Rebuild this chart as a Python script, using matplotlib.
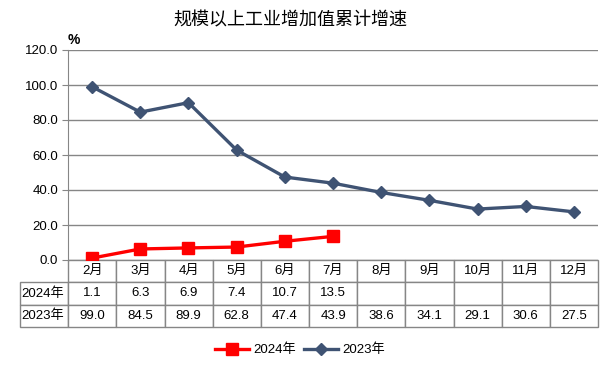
import matplotlib.pyplot as plt

plt.rcParams['font.family'] = ['Liberation Sans', 'Noto Sans CJK SC', 'DejaVu Sans']

months = ['2月', '3月', '4月', '5月', '6月', '7月', '8月', '9月', '10月', '11月', '12月']
v2024 = [1.1, 6.3, 6.9, 7.4, 10.7, 13.5]
v2023 = [99.0, 84.5, 89.9, 62.8, 47.4, 43.9, 38.6, 34.1, 29.1, 30.6, 27.5]
yticks = [0, 20, 40, 60, 80, 100, 120]

W, H = 606, 368
fig = plt.figure(figsize=(W / 100, H / 100), dpi=100)
# plot area in pixels: x 68..598, y 50..260
ax = fig.add_axes([68 / W, 1 - 260 / H, 530 / W, 210 / H])

grid_c = '#868686'
x = list(range(len(months)))
ax.plot(x[:len(v2024)], v2024, color='#FF0000', lw=2.4, marker='s', ms=8, label='2024年', zorder=4)
ax.plot(x, v2023, color='#3F5373', lw=2.4, marker='D', ms=6, label='2023年', zorder=3)

ax.set_xlim(-0.5, len(months) - 0.5)
ax.set_ylim(0, 120)
ax.set_yticks(yticks)
ax.set_yticklabels(['%.1f' % t for t in yticks], fontsize=9.5)
ax.set_xticks([])
ax.yaxis.grid(True, color=grid_c, lw=1)
ax.set_axisbelow(True)
for s in ['top', 'right', 'bottom']:
    ax.spines[s].set_visible(False)
ax.spines['left'].set_color(grid_c)
ax.tick_params(axis='y', color=grid_c, length=4, pad=3)
ax.text(-0.5, 122, '%', fontsize=10, fontweight='bold', ha='left', va='bottom')

fig.text(290 / W, 1 - 20 / H, '规模以上工业增加值累计增速', fontsize=13,
         ha='center', va='center', family=['Noto Sans CJK SC'])

# data table under the plot, first column holds the row labels
cell_text = [[''] + months,
             ['2024年'] + [('%.1f' % v) for v in v2024] + [''] * (len(months) - len(v2024)),
             ['2023年'] + ['%.1f' % v for v in v2023]]
tb = ax.table(cellText=cell_text, cellLoc='center',
              colWidths=[1 / (len(months) + 1)] * (len(months) + 1),
              bbox=[(20 - 68) / 530, -(327 - 260) / 210, (598 - 20) / 530, 67 / 210])
tb.auto_set_font_size(False)
tb.set_fontsize(9.5)
for (r, c), cell in tb.get_celld().items():
    cell.set_edgecolor(grid_c)
    cell.set_linewidth(1)
    if c == 0:
        cell.get_text().set_ha('left')
        cell.PAD = 0.02
    if r == 0 and c == 0:
        cell.visible_edges = ''

fig.legend(loc='center', bbox_to_anchor=(300 / W, 1 - 350 / H), ncol=2, frameon=False,
           fontsize=9.5, handlelength=2.6, columnspacing=0.6, handletextpad=0.3)

fig.savefig('out.png', dpi=100)
